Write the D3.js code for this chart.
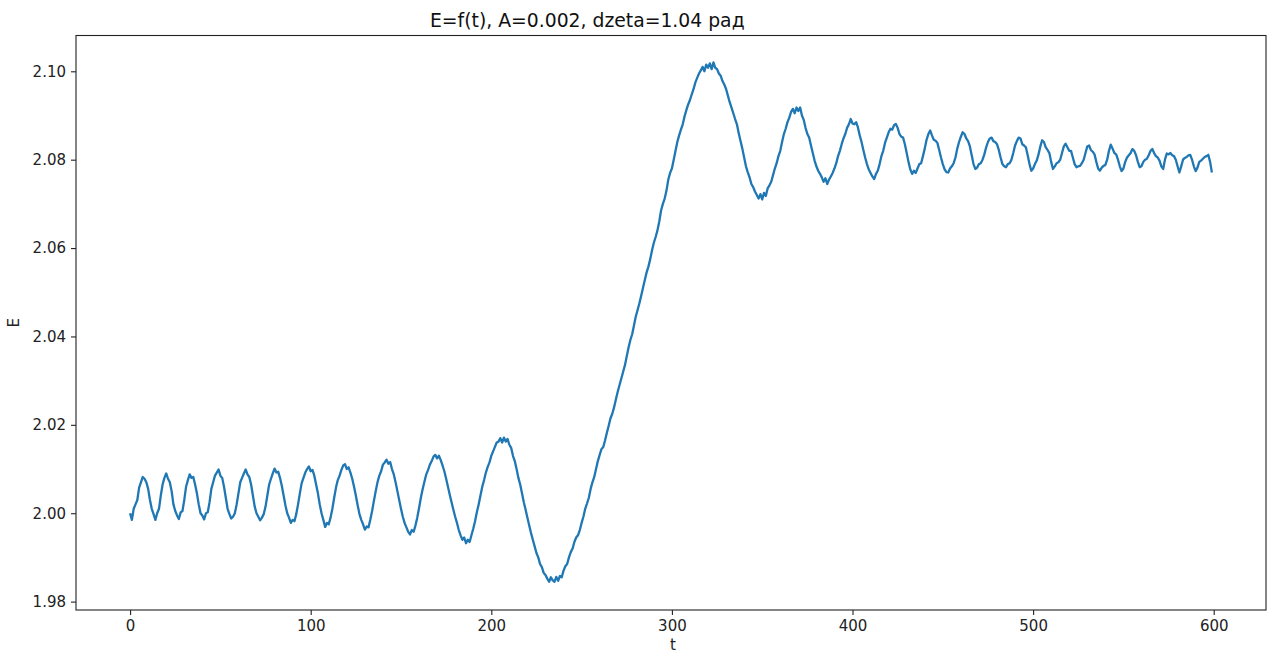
<!DOCTYPE html>
<html>
<head>
<meta charset="utf-8">
<script src="https://cdn.jsdelivr.net/npm/d3@7"></script>
<style>
  html, body { margin: 0; padding: 0; background: #fff; }
  svg { display: block; }
  .tick text { font-family: "DejaVu Sans", sans-serif; font-size: 15px; fill: #222; }
  .tick line { stroke: #222; }
</style>
</head>
<body>
<svg id="chart" width="1269" height="654"></svg>
<script>
// Energy E sampled once per time unit, t = 0 .. 599
const tStart = 0;
const tStep = 1;
const energy = [
  2.0000, 1.9985, 2.0010, 2.0020, 2.0030, 2.0058, 2.0070, 2.0082, 2.0078, 2.0070,
  2.0055, 2.0030, 2.0010, 1.9998, 1.9985, 2.0000, 2.0010, 2.0040, 2.0065, 2.0080,
  2.0090, 2.0078, 2.0070, 2.0050, 2.0020, 2.0005, 1.9995, 1.9987, 2.0002, 2.0005,
  2.0030, 2.0060, 2.0075, 2.0088, 2.0080, 2.0082, 2.0065, 2.0045, 2.0020, 2.0000,
  1.9995, 1.9986, 2.0000, 2.0002, 2.0025, 2.0055, 2.0070, 2.0085, 2.0092, 2.0099,
  2.0085, 2.0080, 2.0060, 2.0035, 2.0010, 1.9998, 1.9988, 1.9992, 2.0000, 2.0020,
  2.0045, 2.0070, 2.0080, 2.0090, 2.0099, 2.0088, 2.0082, 2.0065, 2.0040, 2.0015,
  2.0000, 1.9992, 1.9984, 1.9990, 1.9998, 2.0015, 2.0040, 2.0065, 2.0078, 2.0090,
  2.0101, 2.0092, 2.0094, 2.0080, 2.0062, 2.0040, 2.0018, 2.0000, 1.9990, 1.9978,
  1.9985, 1.9982, 1.9998, 2.0020, 2.0045, 2.0068, 2.0080, 2.0092, 2.0100, 2.0106,
  2.0095, 2.0098, 2.0085, 2.0065, 2.0045, 2.0020, 2.0000, 1.9985, 1.9969, 1.9978,
  1.9975, 1.9990, 2.0010, 2.0035, 2.0058, 2.0075, 2.0085, 2.0098, 2.0108, 2.0111,
  2.0100, 2.0104, 2.0092, 2.0078, 2.0060, 2.0040, 2.0018, 1.9998, 1.9985, 1.9975,
  1.9963, 1.9970, 1.9968, 1.9985, 2.0005, 2.0028, 2.0050, 2.0070, 2.0085, 2.0095,
  2.0110, 2.0115, 2.0121, 2.0112, 2.0116, 2.0100, 2.0088, 2.0070, 2.0050, 2.0030,
  2.0010, 1.9992, 1.9978, 1.9968, 1.9958, 1.9952, 1.9962, 1.9958, 1.9972, 1.9990,
  2.0012, 2.0035, 2.0055, 2.0072, 2.0088, 2.0098, 2.0110, 2.0118, 2.0128, 2.0132,
  2.0124, 2.0130, 2.0120, 2.0108, 2.0095, 2.0078, 2.0060, 2.0042, 2.0025, 2.0008,
  1.9992, 1.9978, 1.9962, 1.9950, 1.9940, 1.9945, 1.9932, 1.9940, 1.9935, 1.9950,
  1.9965, 1.9982, 2.0002, 2.0020, 2.0040, 2.0060, 2.0075, 2.0092, 2.0105, 2.0115,
  2.0130, 2.0140, 2.0150, 2.0160, 2.0162, 2.0170, 2.0160, 2.0171, 2.0162, 2.0168,
  2.0155, 2.0148, 2.0130, 2.0118, 2.0100, 2.0080, 2.0065, 2.0045, 2.0025, 2.0008,
  1.9990, 1.9972, 1.9955, 1.9940, 1.9925, 1.9910, 1.9900, 1.9885, 1.9878, 1.9865,
  1.9860, 1.9852, 1.9845, 1.9855, 1.9848, 1.9845, 1.9856, 1.9847, 1.9858, 1.9855,
  1.9870, 1.9880, 1.9885, 1.9900, 1.9912, 1.9920, 1.9935, 1.9945, 1.9950, 1.9962,
  1.9978, 1.9992, 2.0010, 2.0022, 2.0035, 2.0055, 2.0070, 2.0082, 2.0100, 2.0118,
  2.0132, 2.0145, 2.0150, 2.0165, 2.0182, 2.0198, 2.0215, 2.0225, 2.0240, 2.0258,
  2.0275, 2.0290, 2.0305, 2.0320, 2.0335, 2.0355, 2.0375, 2.0392, 2.0405, 2.0425,
  2.0445, 2.0460, 2.0475, 2.0492, 2.0510, 2.0528, 2.0545, 2.0558, 2.0575, 2.0595,
  2.0612, 2.0625, 2.0640, 2.0660, 2.0685, 2.0700, 2.0712, 2.0730, 2.0755, 2.0770,
  2.0780, 2.0800, 2.0820, 2.0840, 2.0855, 2.0868, 2.0880, 2.0898, 2.0912, 2.0925,
  2.0935, 2.0948, 2.0960, 2.0975, 2.0985, 2.0995, 2.1002, 2.1010, 2.1000, 2.1015,
  2.1008, 2.1018, 2.1005, 2.1020, 2.1008, 2.1005, 2.0995, 2.0990, 2.0978, 2.0970,
  2.0960, 2.0945, 2.0930, 2.0918, 2.0905, 2.0892, 2.0880, 2.0860, 2.0842, 2.0825,
  2.0805, 2.0785, 2.0772, 2.0760, 2.0745, 2.0738, 2.0728, 2.0720, 2.0712, 2.0722,
  2.0710, 2.0725, 2.0718, 2.0735, 2.0742, 2.0750, 2.0765, 2.0780, 2.0792, 2.0808,
  2.0820, 2.0840, 2.0858, 2.0870, 2.0885, 2.0895, 2.0908, 2.0915, 2.0905, 2.0918,
  2.0910, 2.0918, 2.0900, 2.0890, 2.0872, 2.0858, 2.0850, 2.0832, 2.0815, 2.0798,
  2.0785, 2.0775, 2.0768, 2.0760, 2.0750, 2.0758, 2.0745, 2.0755, 2.0762, 2.0770,
  2.0780, 2.0792, 2.0808, 2.0820, 2.0835, 2.0848, 2.0858, 2.0872, 2.0880, 2.0892,
  2.0882, 2.0880, 2.0885, 2.0873, 2.0855, 2.0840, 2.0822, 2.0805, 2.0790, 2.0778,
  2.0770, 2.0762, 2.0756, 2.0768, 2.0775, 2.0790, 2.0808, 2.0820, 2.0838, 2.0850,
  2.0862, 2.0870, 2.0868, 2.0878, 2.0881, 2.0872, 2.0858, 2.0852, 2.0850, 2.0835,
  2.0815, 2.0795, 2.0778, 2.0768, 2.0775, 2.0770, 2.0780, 2.0790, 2.0792, 2.0808,
  2.0825, 2.0845, 2.0858, 2.0866, 2.0855, 2.0845, 2.0843, 2.0838, 2.0822, 2.0805,
  2.0790, 2.0778, 2.0772, 2.0771, 2.0780, 2.0785, 2.0792, 2.0805, 2.0825, 2.0840,
  2.0852, 2.0862, 2.0858, 2.0848, 2.0842, 2.0830, 2.0810, 2.0790, 2.0779, 2.0782,
  2.0790, 2.0792, 2.0800, 2.0812, 2.0828, 2.0840, 2.0848, 2.0850, 2.0842, 2.0840,
  2.0835, 2.0822, 2.0805, 2.0790, 2.0785, 2.0783, 2.0790, 2.0792, 2.0800, 2.0815,
  2.0832, 2.0842, 2.0850, 2.0848, 2.0835, 2.0832, 2.0828, 2.0810, 2.0790, 2.0775,
  2.0780, 2.0790, 2.0798, 2.0812, 2.0830, 2.0844, 2.0840, 2.0828, 2.0822, 2.0815,
  2.0795, 2.0779, 2.0785, 2.0792, 2.0794, 2.0800, 2.0815, 2.0830, 2.0836, 2.0828,
  2.0820, 2.0820, 2.0805, 2.0790, 2.0783, 2.0785, 2.0786, 2.0792, 2.0800, 2.0815,
  2.0830, 2.0832, 2.0822, 2.0818, 2.0812, 2.0795, 2.0780, 2.0775, 2.0782, 2.0786,
  2.0788, 2.0800, 2.0820, 2.0834, 2.0825, 2.0815, 2.0812, 2.0800, 2.0785, 2.0774,
  2.0780, 2.0795, 2.0805, 2.0810, 2.0815, 2.0824, 2.0820, 2.0810, 2.0795, 2.0783,
  2.0785, 2.0795, 2.0800, 2.0802, 2.0810, 2.0820, 2.0824, 2.0815, 2.0808, 2.0805,
  2.0798, 2.0785, 2.0779, 2.0800, 2.0814, 2.0812, 2.0815, 2.0810, 2.0808, 2.0800,
  2.0785, 2.0771, 2.0785, 2.0800, 2.0804, 2.0806, 2.0810, 2.0811, 2.0800, 2.0785,
  2.0774, 2.0782, 2.0795, 2.0798, 2.0802, 2.0806, 2.0808, 2.0811, 2.0795, 2.0771
];
const time = energy.map((_, i) => tStart + i * tStep);

const xTicks = [0, 100, 200, 300, 400, 500, 600];
const yTicks = [1.98, 2.00, 2.02, 2.04, 2.06, 2.08, 2.10];
const titleText = "E=f(t), A=0.002, dzeta=1.04 рад";
const xLabel = "t";
const yLabel = "E";

// Plot frame
const frame = { left: 76, right: 1266, top: 35.5, bottom: 610 };

const svg = d3.select("#chart");

const x = d3.scaleLinear().domain([-29.95, 628.95]).range([frame.left, frame.right]);
const y = d3.scaleLinear().domain([1.9781, 2.1081]).range([frame.bottom, frame.top]);

// Axes
const xAxis = d3.axisBottom(x).tickValues(xTicks).tickFormat(d3.format("d"))
  .tickSize(5).tickPadding(5).tickSizeOuter(0);
const yAxis = d3.axisLeft(y).tickValues(yTicks).tickFormat(d3.format(".2f"))
  .tickSize(5).tickPadding(5).tickSizeOuter(0);

const gx = svg.append("g").attr("transform", `translate(0,${frame.bottom})`).call(xAxis);
const gy = svg.append("g").attr("transform", `translate(${frame.left},0)`).call(yAxis);
[gx, gy].forEach(g => {
  g.select(".domain").remove();
  g.selectAll(".tick line").attr("stroke-width", 1.1);
});

// Data line
const line = d3.line()
  .x((d, i) => x(time[i]))
  .y(d => y(d));

svg.append("path")
  .datum(energy)
  .attr("fill", "none")
  .attr("stroke", "#1f77b4")
  .attr("stroke-width", 2.3)
  .attr("stroke-linejoin", "round")
  .attr("stroke-linecap", "butt")
  .attr("d", line);

// Axes frame
svg.append("rect")
  .attr("x", frame.left).attr("y", frame.top)
  .attr("width", frame.right - frame.left).attr("height", frame.bottom - frame.top)
  .attr("fill", "none").attr("stroke", "#222").attr("stroke-width", 1.1);

// Title and axis labels
svg.append("text")
  .attr("x", 430).attr("y", 27)
  .attr("font-family", "DejaVu Sans, sans-serif")
  .attr("font-size", 18.8)
  .attr("fill", "#111")
  .text(titleText);

svg.append("text")
  .attr("x", (frame.left + frame.right) / 2 + 2).attr("y", 650)
  .attr("text-anchor", "middle")
  .attr("font-family", "DejaVu Sans, sans-serif")
  .attr("font-size", 15)
  .attr("fill", "#222")
  .text(xLabel);

svg.append("text")
  .attr("transform", `translate(19,${(frame.top + frame.bottom) / 2}) rotate(-90)`)
  .attr("text-anchor", "middle")
  .attr("font-family", "DejaVu Sans, sans-serif")
  .attr("font-size", 15)
  .attr("fill", "#222")
  .text(yLabel);
</script>
</body>
</html>
